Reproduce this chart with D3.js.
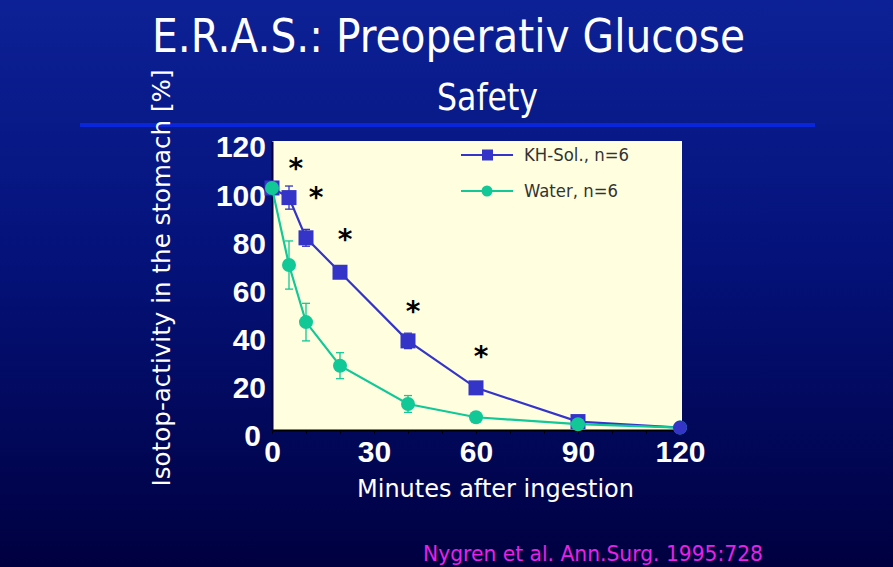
<!DOCTYPE html>
<html><head><meta charset="utf-8">
<script src="https://cdn.jsdelivr.net/npm/d3@7"></script>
<style>html,body{margin:0;padding:0;background:#000040;overflow:hidden}</style>
</head><body>
<script>
// ---- data ----
const minutes = [0, 5, 10, 20, 40, 60, 90, 120];
const khValues = [100.5, 96.5, 79.8, 65.5, 37, 17.5, 3.5, 1];
const khErrors = [0, 4.8, 3.5, 1.2, 3.2, 1.5, 0.8, 0.5];
const waterValues = [100.5, 68.5, 44.8, 26.7, 10.8, 5.3, 2.4, 1];
const waterErrors = [0, 10, 7.8, 5.4, 3.5, 2, 0.6, 0.4];
const seriesNames = ["KH-Sol., n=6", "Water, n=6"];
const xTickLabels = [0, 30, 60, 90, 120];
const yTickLabels = [0, 20, 40, 60, 80, 100, 120];
const starX = [7, 13, 21.5, 41.5, 61.5];
const starY = [110.7, 98.8, 81.4, 51.6, 32.6];

const W = 893, H = 567;
const svg = d3.select("body").append("svg").attr("width", W).attr("height", H);
const defs = svg.append("defs");
const grad = defs.append("linearGradient").attr("id", "bg").attr("x1", 0).attr("y1", 0).attr("x2", 0).attr("y2", 1);
grad.append("stop").attr("offset", "0%").attr("stop-color", "#0d2196");
grad.append("stop").attr("offset", "45%").attr("stop-color", "#04127a");
grad.append("stop").attr("offset", "100%").attr("stop-color", "#000040");
svg.append("rect").attr("width", W).attr("height", H).attr("fill", "url(#bg)");

// title
svg.append("text").attr("x", 152).attr("y", 52).attr("fill", "#fff")
  .attr("font-family", "DejaVu Sans Condensed, DejaVu Sans, sans-serif").attr("font-size", 47)
  .attr("textLength", 593).attr("lengthAdjust", "spacingAndGlyphs")
  .text("E.R.A.S.: Preoperativ Glucose");
svg.append("text").attr("x", 437).attr("y", 110).attr("fill", "#fff")
  .attr("font-family", "DejaVu Sans Condensed, DejaVu Sans, sans-serif").attr("font-size", 38)
  .attr("textLength", 101).attr("lengthAdjust", "spacingAndGlyphs")
  .text("Safety");
svg.append("line").attr("x1", 80).attr("x2", 815).attr("y1", 125).attr("y2", 125)
  .attr("stroke", "#0a26dc").attr("stroke-width", 4);

// scales
const x = d3.scaleLinear().domain([0, 120]).range([272, 680]);
const y = d3.scaleLinear().domain([0, 120]).range([430, 141]);

svg.append("rect").attr("x", 272).attr("y", 141).attr("width", 410).attr("height", 289).attr("fill", "#ffffe0");

// axes
const xMinor = svg.append("g").attr("transform", "translate(0,430)")
  .call(d3.axisBottom(x).tickValues(d3.range(0, 121, 10)).tickSize(4).tickFormat("").tickSizeOuter(0));
xMinor.select(".domain").attr("stroke", "#000").attr("stroke-width", 2);
xMinor.selectAll(".tick line").attr("stroke", "#000");

const xMajor = svg.append("g").attr("transform", "translate(0,430)")
  .call(d3.axisBottom(x).tickValues(xTickLabels).tickSize(0).tickPadding(11));
xMajor.select(".domain").remove();
xMajor.selectAll("text").attr("fill", "#fff").attr("font-family", "Liberation Sans, Arial, sans-serif")
  .attr("font-weight", "bold").attr("font-size", 30);

const yAx = svg.append("g").attr("transform", "translate(272,0)")
  .call(d3.axisLeft(y).tickValues(yTickLabels).tickSize(0).tickPadding(6).tickSizeOuter(0));
yAx.select(".domain").attr("stroke", "#000040").attr("stroke-width", 2);
yAx.selectAll("text").attr("fill", "#fff").attr("font-family", "Liberation Sans, Arial, sans-serif")
  .attr("font-weight", "bold").attr("font-size", 30).attr("dy", "0.53em")
  .attr("dx", d => d === 0 ? -5 : 0);

// axis titles
svg.append("text").attr("transform", "translate(170,278) rotate(-90)").attr("text-anchor", "middle")
  .attr("fill", "#fff").attr("font-family", "DejaVu Sans, sans-serif").attr("font-size", 24)
  .attr("textLength", 417).attr("lengthAdjust", "spacingAndGlyphs")
  .text("Isotop-activity in the stomach [%]");
svg.append("text").attr("x", 357).attr("y", 497).attr("fill", "#fff")
  .attr("font-family", "DejaVu Sans, sans-serif").attr("font-size", 25)
  .attr("textLength", 277).attr("lengthAdjust", "spacingAndGlyphs")
  .text("Minutes after ingestion");

// series
const khColor = "#3434c8", waterColor = "#12c896";
const series = [
  {name: seriesNames[0], vals: khValues, errs: khErrors, color: khColor, shape: "square"},
  {name: seriesNames[1], vals: waterValues, errs: waterErrors, color: waterColor, shape: "circle"}
];
const line = d3.line().x(d => x(d[0])).y(d => y(d[1]));

function drawSeries(s) {
  const pts = minutes.map((m, i) => [m, s.vals[i], s.errs[i]]);
  const g = svg.append("g");
  g.append("path").attr("d", line(pts)).attr("fill", "none").attr("stroke", s.color).attr("stroke-width", 2.2);
  pts.filter(p => p[2] > 0).forEach(p => {
    const cx = x(p[0]);
    g.append("line").attr("x1", cx).attr("x2", cx).attr("y1", y(p[1] + p[2])).attr("y2", y(p[1] - p[2]))
      .attr("stroke", s.color).attr("stroke-width", 1.3);
    [p[1] + p[2], p[1] - p[2]].forEach(v => {
      g.append("line").attr("x1", cx - 4).attr("x2", cx + 4).attr("y1", y(v)).attr("y2", y(v))
        .attr("stroke", s.color).attr("stroke-width", 1.3);
    });
  });
  return {g, pts};
}
function drawMarkers(s, g, pts) {
  pts.forEach(p => {
    if (s.shape === "square") {
      g.append("rect").attr("x", x(p[0]) - 7.5).attr("y", y(p[1]) - 7.5).attr("width", 15).attr("height", 15).attr("fill", s.color);
    } else {
      g.append("circle").attr("cx", x(p[0])).attr("cy", y(p[1])).attr("r", 7).attr("fill", s.color);
    }
  });
}
const dw = drawSeries(series[1]);
const dk = drawSeries(series[0]);
drawMarkers(series[0], dk.g, dk.pts.slice(0, 7));
drawMarkers(series[1], dw.g.raise(), dw.pts);
// last KH point sits on top of the water marker
svg.append("circle").attr("cx", x(minutes[7])).attr("cy", y(khValues[7])).attr("r", 7).attr("fill", khColor);

// asterisks
starX.forEach((sx, i) => {
  svg.append("text").attr("x", x(sx)).attr("y", y(starY[i]) + 15).attr("text-anchor", "middle")
    .attr("fill", "#000").attr("font-family", "DejaVu Sans, sans-serif").attr("font-weight", "bold")
    .attr("font-size", 28).text("*");
});

// legend
const legY = [155, 191];
series.forEach((s, i) => {
  svg.append("line").attr("x1", 461).attr("x2", 513).attr("y1", legY[i]).attr("y2", legY[i])
    .attr("stroke", s.color).attr("stroke-width", 2.2);
  if (s.shape === "square") {
    svg.append("rect").attr("x", 482).attr("y", legY[i] - 5.5).attr("width", 11).attr("height", 11).attr("fill", s.color);
  } else {
    svg.append("circle").attr("cx", 487).attr("cy", legY[i]).attr("r", 5.5).attr("fill", s.color);
  }
  svg.append("text").attr("x", 524).attr("y", legY[i] + 6).attr("fill", "#333")
    .attr("font-family", "DejaVu Sans, sans-serif").attr("font-size", 17)
    .attr("textLength", i === 0 ? 105 : 94).attr("lengthAdjust", "spacingAndGlyphs")
    .text(s.name);
});

// citation
svg.append("text").attr("x", 423).attr("y", 561).attr("fill", "#e622e6")
  .attr("font-family", "DejaVu Sans, sans-serif").attr("font-size", 22)
  .attr("textLength", 340).attr("lengthAdjust", "spacingAndGlyphs")
  .text("Nygren et al. Ann.Surg. 1995:728");
</script>
</body></html>
